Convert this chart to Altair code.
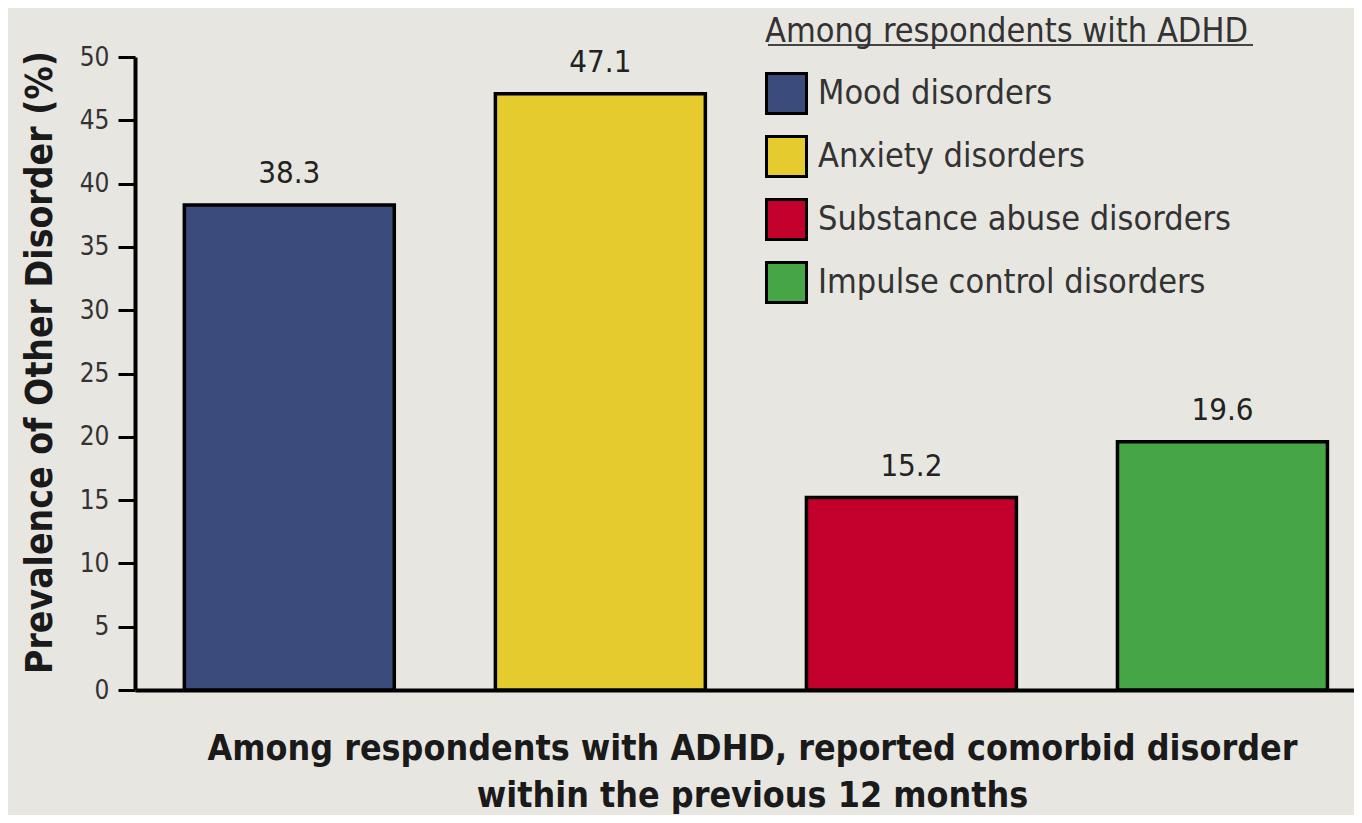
import altair as alt
import pandas as pd

categories = ["Mood disorders", "Anxiety disorders", "Substance abuse disorders", "Impulse control disorders"]
values = [38.3, 47.1, 15.2, 19.6]
colors = ["#3b4b7b", "#e6cb2f", "#c2002b", "#46a545"]
y_ticks = list(range(0, 51, 5))

df = pd.DataFrame({"cat": categories, "val": values, "label": [f"{v:.1f}" for v in values]})

FONT = "Liberation Sans Narrow, DejaVu Sans Condensed, Arial Narrow, sans-serif"

base = alt.Chart(df)

bars = base.mark_bar(stroke="black", strokeWidth=3.5).encode(
    x=alt.X("cat:N", sort=categories,
            scale=alt.Scale(paddingInner=0.325, paddingOuter=0.122, align=0.65),
            axis=alt.Axis(labels=False, ticks=False, domain=True, domainColor="black", domainWidth=4,
                          title=["Among respondents with ADHD, reported comorbid disorder",
                                 "within the previous 12 months"],
                          titleFontSize=35.5, titleFontWeight="bold", titleColor="#1a1a1a",
                          titleFont=FONT, titlePadding=41, titleLineHeight=47, titleX=617)),
    y=alt.Y("val:Q", scale=alt.Scale(domain=[0, 50], nice=False),
            axis=alt.Axis(values=y_ticks, grid=False, domainColor="black", domainWidth=4,
                          tickColor="black", tickWidth=3, tickSize=17,
                          labelFontSize=26, labelColor="#333", labelFont=FONT, labelPadding=9,
                          title="Prevalence of Other Disorder (%)", titleFontSize=37,
                          titleFontWeight="bold", titleColor="#1a1a1a", titleFont=FONT,
                          titlePadding=20, titleY=305)),
    fill=alt.Fill("cat:N", sort=categories,
                  scale=alt.Scale(domain=categories, range=colors),
                  legend=alt.Legend(title="Among respondents with ADHD", orient="none",
                                    legendX=630, legendY=-42,
                                    titleFontSize=34, titleFontWeight="normal", titleColor="#333",
                                    titleFont=FONT, titlePadding=23, titleLimit=800,
                                    labelFontSize=34, labelColor="#333", labelFont=FONT, labelLimit=800,
                                    symbolType="square", symbolSize=1600, symbolStrokeColor="black",
                                    symbolStrokeWidth=3, symbolOpacity=1, rowPadding=10, labelOffset=10)),
)

texts = base.mark_text(baseline="bottom", dy=-15, fontSize=31, color="#222", font=FONT).encode(
    x=alt.X("cat:N", sort=categories),
    y="val:Q",
    text="label:N",
)

underline = alt.Chart(pd.DataFrame({"a": [0]})).mark_rule(color="#444", strokeWidth=2).encode(
    x=alt.value(633), x2=alt.value(1118), y=alt.value(-12)
)

chart = alt.layer(bars, texts, underline).properties(
    width=1219, height=633,
    padding={"left": 127, "top": 49, "right": 0, "bottom": 125},
    autosize="none",
    background="#e8e6e1",
).configure_view(stroke=None)

chart.save("out.html", embed_options={"renderer": "svg", "actions": False})
